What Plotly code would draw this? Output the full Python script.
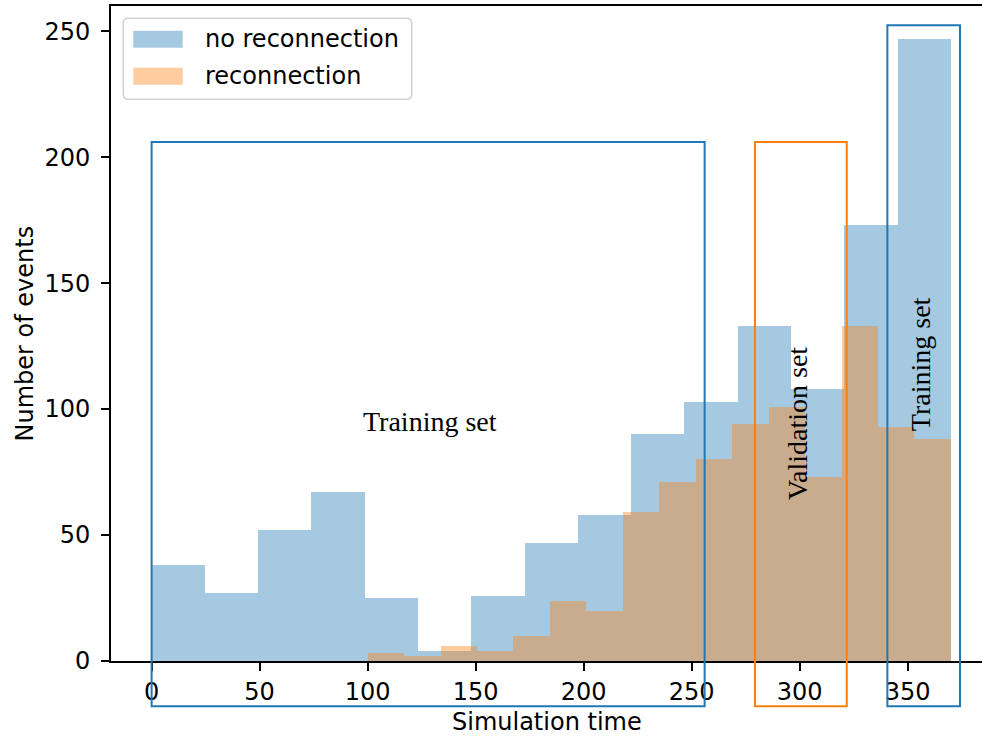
import numpy as np
import plotly.graph_objects as go

# ---------------- data ----------------
series_names = ["no reconnection", "reconnection"]
no_reconn_counts = [38, 27, 52, 67, 25, 4, 26, 47, 58, 90, 103, 133, 108, 173, 247]
no_reconn_range = [0, 370]
reconn_counts = [3, 2, 6, 4, 10, 24, 20, 59, 71, 80, 94, 101, 73, 133, 93, 88]
reconn_range = [100, 370]
x_ticks = [0, 50, 100, 150, 200, 250, 300, 350]
y_ticks = [0, 50, 100, 150, 200, 250]
x_title = "Simulation time"
y_title = "Number of events"
# region boxes in data units: [x0, x1, y0, y1]
box_train_1 = [0, 256, -18, 206]
box_valid = [279.3, 321.8, -18, 206]
box_train_2 = [340.6, 374.2, -18, 252.4]
# region labels: (text, x, y, angle)
region_labels = [
    ("Training set", 129, 95, 0),
    ("Validation set", 298.7, 94.4, -90),
    ("Training set", 356, 117.7, -90),
]

X_RANGE = [-18.8, 384.4]
Y_RANGE = [0, 260]

BLUE = "#1f77b4"
ORANGE = "#ff7f0e"

W, H = 982, 736
ML, MR, MT, MB = 111, 0, 6, 75
PW, PH = W - ML - MR, H - MT - MB


def bins(rng, n):
    e = np.linspace(rng[0], rng[1], n + 1)
    return (e[:-1] + e[1:]) / 2, np.diff(e)


c1, w1 = bins(no_reconn_range, len(no_reconn_counts))
c2, w2 = bins(reconn_range, len(reconn_counts))

fig = go.Figure()
fig.add_trace(go.Bar(x=c1, y=no_reconn_counts, width=w1, name=series_names[0],
                     marker=dict(color=BLUE, opacity=0.4, line=dict(width=0)),
                     showlegend=False))
fig.add_trace(go.Bar(x=c2, y=reconn_counts, width=w2, name=series_names[1],
                     marker=dict(color=ORANGE, opacity=0.4, line=dict(width=0)),
                     showlegend=False))


def yp(v):
    return (v - Y_RANGE[0]) / (Y_RANGE[1] - Y_RANGE[0])


shapes = []
for box, col in [(box_train_1, BLUE), (box_valid, ORANGE), (box_train_2, BLUE)]:
    shapes.append(dict(type="rect", xref="x", yref="paper",
                       x0=box[0], x1=box[1], y0=yp(box[2]), y1=yp(box[3]),
                       line=dict(color=col, width=2), fillcolor="rgba(0,0,0,0)",
                       layer="above"))


# ---- manual matplotlib-like legend (pixel -> paper helpers) ----
def px(x):
    return (x - ML) / PW


def py(y):
    return (H - MB - y) / PH


def rounded_rect(x0, y0, x1, y1, r):
    rx, ry = r / PW, r / PH
    X0, X1 = px(x0), px(x1)
    Y0, Y1 = py(y0), py(y1)  # Y0 top (larger), Y1 bottom
    return (f"M {X0+rx},{Y0} L {X1-rx},{Y0} Q {X1},{Y0} {X1},{Y0-ry} "
            f"L {X1},{Y1+ry} Q {X1},{Y1} {X1-rx},{Y1} L {X0+rx},{Y1} "
            f"Q {X0},{Y1} {X0},{Y1+ry} L {X0},{Y0-ry} Q {X0},{Y0} {X0+rx},{Y0} Z")


shapes.append(dict(type="path", xref="paper", yref="paper",
                   path=rounded_rect(123.3, 18.3, 411.7, 99.3, 5),
                   line=dict(color="#d3d3d3", width=1.6),
                   fillcolor="rgba(255,255,255,0.8)", layer="above"))
legend_rows = [(39.2, BLUE), (76.3, ORANGE)]
annotations = []
for (cy, col), name in zip(legend_rows, series_names):
    shapes.append(dict(type="rect", xref="paper", yref="paper",
                       x0=px(133.3), x1=px(182.7), y0=py(cy - 8.5), y1=py(cy + 8.5),
                       line=dict(width=0), fillcolor=col, opacity=0.4, layer="above"))
    annotations.append(dict(xref="paper", yref="paper", x=px(203), y=py(cy),
                            xanchor="left", yanchor="middle", showarrow=False,
                            text=name, font=dict(family="DejaVu Sans", size=24, color="black")))

for text, x, y, ang in region_labels:
    annotations.append(dict(xref="x", yref="y", x=x, y=y, text=text, textangle=ang,
                            showarrow=False, xanchor="center", yanchor="middle",
                            font=dict(family="Liberation Serif", size=28, color="black")))

# axis titles
annotations.append(dict(xref="paper", yref="paper", x=0.5, y=0, yanchor="top",
                        yshift=-45, showarrow=False, text=x_title,
                        font=dict(family="DejaVu Sans", size=24, color="black")))
annotations.append(dict(xref="paper", yref="paper", x=0, y=0.5, xanchor="center",
                        xshift=-87, showarrow=False, text=y_title, textangle=-90,
                        font=dict(family="DejaVu Sans", size=24, color="black")))

axis_common = dict(showline=True, linecolor="black", linewidth=1.9, ticks="outside",
                   ticklen=8, tickwidth=1.9, tickcolor="black", showgrid=False,
                   zeroline=False, tickfont=dict(family="DejaVu Sans", size=24, color="black"))

fig.update_layout(
    width=W, height=H, autosize=False,
    margin=dict(l=ML, r=MR, t=MT, b=MB, pad=0),
    barmode="overlay", bargap=0,
    plot_bgcolor="white", paper_bgcolor="white",
    xaxis=dict(range=X_RANGE, tickvals=x_ticks, mirror=True, ticklabelstandoff=0,
               **axis_common),
    yaxis=dict(range=Y_RANGE, tickvals=y_ticks, ticklabelstandoff=6, **axis_common),
    shapes=shapes, annotations=annotations,
    showlegend=False,
)

fig.write_html("out.html", config={"displayModeBar": False},
               post_script="document.body.style.margin='0';document.body.style.overflow='hidden';")
